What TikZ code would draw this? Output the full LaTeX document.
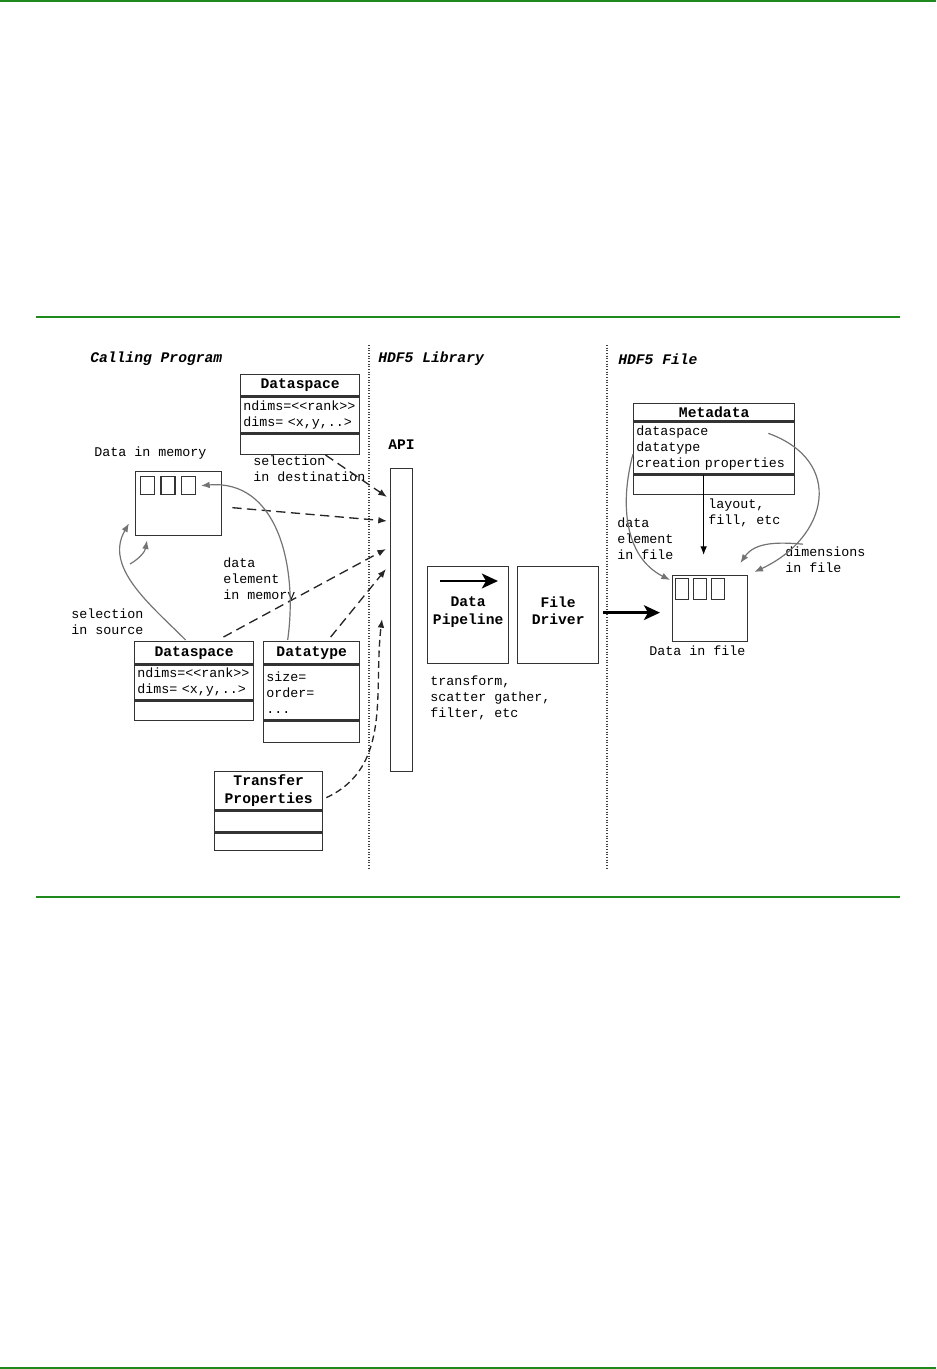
\documentclass[tikz,border=0pt]{standalone}
\usepackage{fontspec}
\setmonofont{Liberation Mono}
\usetikzlibrary{positioning, arrows.meta}
\definecolor{rulegreen}{RGB}{30,138,30}

\begin{document}
\begin{tikzpicture}[
    x=0.75pt, y=-0.75pt,
    font=\ttfamily\fontsize{10}{12}\selectfont,
    >={Latex[length=6.5pt, width=5pt]},
    head/.style={draw=black!80, line width=1pt, rectangle, anchor=north west,
        inner sep=0pt, align=center, font=\ttfamily\bfseries\fontsize{11}{13}\selectfont},
    attrs/.style={draw=black!80, line width=1pt, rectangle, anchor=north west,
        inner xsep=2pt, inner ysep=1pt, align=left},
    cell/.style={draw=black!80, line width=1pt, rectangle, anchor=north west, inner sep=0pt},
    lbl/.style={anchor=west, align=left, inner sep=0pt},
    title/.style={anchor=west, inner sep=0pt,
        font=\ttfamily\bfseries\itshape\fontsize{11}{13}\selectfont},
    flow/.style={->, dash pattern=on 7pt off 4pt, line width=1pt, black!85},
    link/.style={->, line width=0.9pt, black!55},
    bigflow/.style={-{Stealth[length=12pt, width=11pt, inset=3pt]}, line width=2.2pt},
    rule/.style={rulegreen, line width=1.6pt},
    divider/.style={dash pattern=on 0.8pt off 1.2pt, line width=0.8pt, black!75},
]
\useasboundingbox (0,0) rectangle (936,1369);

% ---- page rules and column dividers ----
\draw[rule] (0,1) -- (936,1);
\draw[rule] (36,317) -- (900,317);
\draw[rule] (36,897) -- (900,897);
\draw[rule] (0,1368) -- (936,1368);
\draw[divider] (369,345) -- (369,868);
\draw[divider] (607,345) -- (607,868);

% ---- column titles ----
\node[title] (tprog) at (90,359) {Calling Program};
\node[title] (tlib) at (378,359) {HDF5 Library};
\node[title] (tfile) at (618,359) {HDF5 File};

% ---- calling program ----
\node[head, minimum width=89.25pt, minimum height=15.75pt] (dsdst-h) at (240,374) {Dataspace};
\node[attrs, text width=85.25pt, minimum height=27pt] (dsdst-a) at (dsdst-h.south west)
    {ndims=<<rank>>\\dims= <x,y,..>};
\node[cell, minimum width=89.25pt, minimum height=15pt] (dsdst-e) at (dsdst-a.south west) {};

\node[lbl] (lmem) at (94,453) {Data in memory};
\node[cell, minimum width=64.5pt, minimum height=48pt] (mem) at (135,471) {};
\node[cell, minimum width=10.5pt, minimum height=13.5pt] (mem-c1)
    at ([xshift=3.75pt, yshift=-3.75pt]mem.north west) {};
\node[cell, minimum width=10.5pt, minimum height=13.5pt, right=3.75pt of mem-c1] (mem-c2) {};
\node[cell, minimum width=10.5pt, minimum height=13.5pt, right=3.75pt of mem-c2] (mem-c3) {};

\node[lbl] (lseldst) at (253,469) {selection\\in destination};
\node[lbl] (lmemel) at (223,580) {data\\element\\in memory};
\node[lbl] (lselsrc) at (71,622) {selection\\in source};

\node[head, minimum width=89.25pt, minimum height=16.5pt] (dssrc-h) at (134,641) {Dataspace};
\node[attrs, text width=85.25pt, minimum height=26.25pt] (dssrc-a) at (dssrc-h.south west)
    {ndims=<<rank>>\\dims= <x,y,..>};
\node[cell, minimum width=89.25pt, minimum height=14.25pt] (dssrc-e) at (dssrc-a.south west) {};

\node[head, minimum width=72pt, minimum height=16.5pt] (dtype-h) at (263,641) {Datatype};
\node[attrs, text width=68pt, minimum height=41.25pt] (dtype-a) at (dtype-h.south west)
    {size=\\order=\\...};
\node[cell, minimum width=72pt, minimum height=15.75pt] (dtype-e) at (dtype-a.south west) {};

\node[head, minimum width=81pt, minimum height=28.5pt] (xfer-h) at (214,771) {Transfer\\Properties};
\node[cell, minimum width=81pt, minimum height=15.75pt] (xfer-m) at (xfer-h.south west) {};
\node[cell, minimum width=81pt, minimum height=12.75pt] (xfer-e) at (xfer-m.south west) {};

% ---- HDF5 library ----
\node[anchor=west, inner sep=0pt, font=\ttfamily\bfseries\fontsize{11}{13}\selectfont] (lapi)
    at (388,445) {API};
\node[cell, minimum width=16.5pt, minimum height=227.25pt] (api) at (390,468) {};
\node[head, minimum width=60.75pt, minimum height=72.75pt, text depth=7pt] (pipe) at (427,566) {Data\\Pipeline};
\node[head, minimum width=60.75pt, minimum height=72.75pt, text depth=7pt] (drv) at (517,566) {File\\Driver};
\node[lbl] (lpipe) at (430,698) {transform,\\scatter gather,\\filter, etc};

% ---- HDF5 file ----
\node[head, minimum width=120.75pt, minimum height=12.75pt] (meta-h) at (633,403) {Metadata};
\node[attrs, text width=116.75pt, minimum height=39pt] (meta-a) at (meta-h.south west)
    {dataspace\\datatype\\creation properties};
\node[cell, minimum width=120.75pt, minimum height=14.25pt] (meta-e) at (meta-a.south west) {};

\node[lbl] (llayout) at (708,513) {layout,\\fill, etc};
\node[lbl] (lelfile) at (617,539) {data\\element\\in file};
\node[lbl] (ldims) at (785,560) {dimensions\\in file};

\node[cell, minimum width=56.25pt, minimum height=49.5pt] (dfile) at (672,575) {};
\node[cell, minimum width=9.75pt, minimum height=15.75pt] (dfile-c1)
    at ([xshift=2.25pt, yshift=-2.25pt]dfile.north west) {};
\node[cell, minimum width=9.75pt, minimum height=15.75pt, right=2.6pt of dfile-c1] (dfile-c2) {};
\node[cell, minimum width=9.75pt, minimum height=15.75pt, right=2.6pt of dfile-c2] (dfile-c3) {};
\node[lbl] (lfile) at (649,651) {Data in file};

\coordinate (selsrc-from) at (130,564);

% ---- dashed flows into the API ----
\draw[flow] ([xshift=19pt]dsdst-e.south) -- ([xshift=-2.25pt, yshift=-21.75pt]api.north west);
\draw[flow] ([xshift=7.5pt, yshift=-3pt]mem.east) -- ([xshift=-2.25pt, yshift=-39.75pt]api.north west);
\draw[flow] ([xshift=22pt, yshift=3pt]dssrc-h.north) -- ([xshift=-3pt, yshift=-60.75pt]api.north west);
\draw[flow] ([xshift=14.25pt, yshift=3pt]dtype-h.north) -- ([xshift=-3pt, yshift=-75.75pt]api.north west);
\draw[flow, dash pattern=on 5pt off 3pt] ([xshift=2.25pt, yshift=-5.25pt]xfer-h.east)
    to[out=25, in=-97] ([xshift=-6pt, yshift=-113.25pt]api.north west);

% ---- selections and data elements ----
\draw[link] ([xshift=-6.4pt, yshift=0.75pt]dssrc-h.north)
    to[out=135, in=-120] ([xshift=-4.5pt, yshift=9.75pt]mem.south west);
\draw[link] (selsrc-from) to[out=30, in=-100] ([xshift=9pt, yshift=-3pt]mem.south west);
\draw[link] ([xshift=-18pt, yshift=0.75pt]dtype-h.north)
    to[out=82, in=5, looseness=1.1] ([xshift=3.75pt]mem-c3.east);

% ---- pipeline ----
\draw[bigflow] ([xshift=9.75pt, yshift=-11.25pt]pipe.north west)
    -- ([xshift=53.25pt, yshift=-11.25pt]pipe.north west);
\draw[bigflow, shorten <=3pt, shorten >=9pt] ([yshift=1.9pt]drv.east) -- ([yshift=1.9pt]drv.east -| dfile.west);

% ---- metadata into the file ----
\draw[->, line width=0.9pt, shorten >=15pt] ([xshift=-7.9pt]meta-a.south)
    -- ([xshift=-7.9pt]meta-a.south |- dfile.north);
\draw[link] ([yshift=-4.5pt]meta-a.west) to[out=-105, in=153] ([xshift=-1.5pt, yshift=-3.75pt]dfile.north west);
\draw[link] ([xshift=-20.25pt, yshift=-9pt]meta-a.north east)
    to[out=-20, in=25, looseness=1.5] ([xshift=4.5pt, yshift=2.25pt]dfile.north east);
\draw[link] ([xshift=13.5pt, yshift=2pt]ldims.north west)
    to[out=175, in=55] ([xshift=-6pt, yshift=9pt]dfile.north east);

\end{tikzpicture}
\end{document}
